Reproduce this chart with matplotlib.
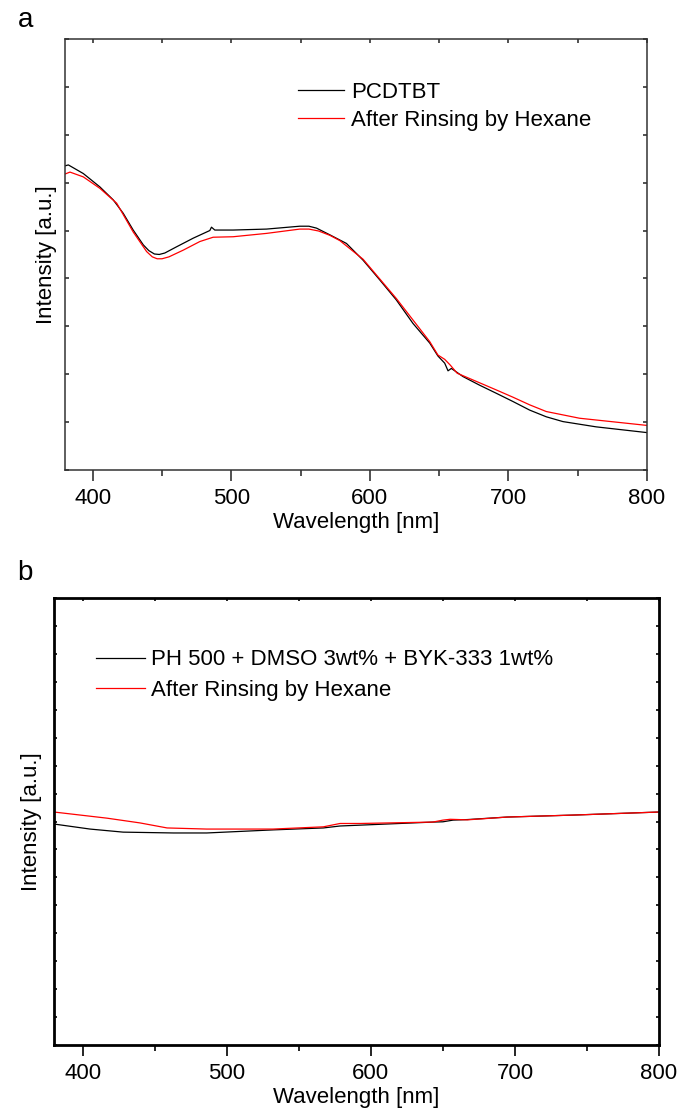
import numpy as np
import matplotlib
matplotlib.use("Agg")
import matplotlib.pyplot as plt
from matplotlib.ticker import MultipleLocator, NullFormatter

plt.rcParams['font.family'] = ['Liberation Sans', 'DejaVu Sans']

# panel a: PCDTBT absorbance (arbitrary units)
wl_a_black = [380, 382.4, 393.2, 405.2, 414.8, 422.0, 429.2, 436.5, 440.5, 444.5, 448.0,
              452.0, 460.5, 472.5, 484.5, 485.7, 488.1, 501.3, 525.4, 549.4, 556.0,
              561.5, 571.1, 583.1, 595.1, 607.1, 619.1, 631.1, 643.2, 649.1, 654.0,
              656.4, 658.8, 667.2, 679.2, 691.3, 703.2, 715.3, 727.3, 739.3, 763.3, 800]
int_a_black = [6.35, 6.37, 6.19, 5.91, 5.64, 5.36, 5.01, 4.70, 4.58, 4.51, 4.50,
               4.53, 4.66, 4.84, 5.00, 5.07, 5.01, 5.01, 5.03, 5.09, 5.09,
               5.05, 4.91, 4.73, 4.38, 3.97, 3.55, 3.06, 2.65, 2.38, 2.23,
               2.07, 2.12, 1.95, 1.77, 1.60, 1.43, 1.25, 1.11, 1.01, 0.90, 0.78]
wl_a_red = [380, 383.6, 393.2, 405.2, 417.3, 429.2, 438.9, 443.0, 446.5, 450.0, 455.0,
            465.3, 477.3, 486.9, 501.3, 525.4, 549.4, 556.0, 563.0, 571.1, 578.3, 595.1,
            619.1, 643.2, 649.1, 654.0, 658.0, 663.0, 679.2, 691.3, 703.2, 715.3,
            727.3, 751.3, 800]
int_a_red = [6.18, 6.22, 6.12, 5.88, 5.57, 4.97, 4.56, 4.45, 4.41, 4.41, 4.45,
             4.59, 4.77, 4.86, 4.87, 4.94, 5.03, 5.03, 4.99, 4.90, 4.79, 4.40,
             3.58, 2.68, 2.40, 2.31, 2.19, 2.02, 1.82, 1.67, 1.52, 1.36,
             1.22, 1.08, 0.93]

# panel b: PH 500 blend
wl_b_black = [380, 405, 428, 463, 486, 532, 567, 578.6, 592.5, 643, 650, 657, 667,
              694.6, 740, 800]
int_b_black = [7.91, 7.73, 7.62, 7.59, 7.59, 7.70, 7.77, 7.84, 7.87, 7.98, 7.99, 8.05,
               8.07, 8.16, 8.23, 8.34]
wl_b_red = [380, 416.8, 439.7, 458.5, 486, 509, 532, 567, 578.6, 592.5, 643, 650, 655,
            667, 694.6, 740, 800]
int_b_red = [8.34, 8.12, 7.95, 7.77, 7.73, 7.73, 7.73, 7.81, 7.93, 7.93, 7.98, 8.05,
             8.08, 8.06, 8.16, 8.23, 8.34]

labels_a = ['PCDTBT', 'After Rinsing by Hexane']
labels_b = ['PH 500 + DMSO 3wt% + BYK-333 1wt%', 'After Rinsing by Hexane']

FS = 16

fig = plt.figure(figsize=(6.8, 11.2), dpi=100)


def style_axes(ax, spine_lw, spine_col, ymax, in_len, ypad):
    ax.set_xlim(380, 800)
    ax.set_ylim(0, ymax)
    for s in ax.spines.values():
        s.set_linewidth(spine_lw)
        s.set_color(spine_col)
    ax.xaxis.set_major_locator(MultipleLocator(100))
    ax.xaxis.set_minor_locator(MultipleLocator(50))
    ax.tick_params(axis='x', which='major', direction='out', length=8, width=1.2,
                   labelsize=FS, pad=5, color=spine_col)
    ax.tick_params(axis='x', which='minor', direction='out', length=4, width=1.2,
                   color=spine_col)
    ax.yaxis.set_major_locator(MultipleLocator(1))
    ax.yaxis.set_major_formatter(NullFormatter())
    ax.tick_params(axis='y', which='major', direction='in', length=in_len, width=1.2,
                   left=True, right=True, color=spine_col)
    # inward ticks along the top edge
    top = ax.secondary_xaxis('top')
    top.xaxis.set_major_locator(MultipleLocator(50))
    top.xaxis.set_major_formatter(NullFormatter())
    top.tick_params(direction='in', length=in_len, width=1.2, color=spine_col)
    top.spines['top'].set_visible(False)
    ax.set_xlabel('Wavelength [nm]', fontsize=FS, labelpad=2)
    ax.set_ylabel('Intensity [a.u.]', fontsize=FS, labelpad=ypad)


# ---- panel a
ax1 = fig.add_axes([0.0956, 0.5804, 0.8559, 0.3848])
ax1.plot(wl_a_black, int_a_black, color='black', lw=0.9, label=labels_a[0])
ax1.plot(wl_a_red, int_a_red, color='#ff0000', lw=0.9, label=labels_a[1])
style_axes(ax1, 1.1, '#333333', 9, 3, 2)
ax1.legend(loc='upper left', bbox_to_anchor=(0.40, 0.901), frameon=False,
           fontsize=FS, handlelength=2.1, handletextpad=0.3, labelspacing=0.32,
           borderpad=0, borderaxespad=0)
fig.text(0.026, 0.982, 'a', fontsize=20, va='center', ha='left')

# ---- panel b
ax2 = fig.add_axes([0.0794, 0.067, 0.8897, 0.399])
ax2.plot(wl_b_black, int_b_black, color='black', lw=0.9, label=labels_b[0])
ax2.plot(wl_b_red, int_b_red, color='#ff0000', lw=0.9, label=labels_b[1])
style_axes(ax2, 2.0, 'black', 16, 2.5, 5)
ax2.legend(loc='upper left', bbox_to_anchor=(0.069, 0.885), frameon=False,
           fontsize=FS, handlelength=2.2, handletextpad=0.3, labelspacing=0.41,
           borderpad=0, borderaxespad=0)
fig.text(0.026, 0.488, 'b', fontsize=20, va='center', ha='left')

fig.savefig('out.png', dpi=100)
